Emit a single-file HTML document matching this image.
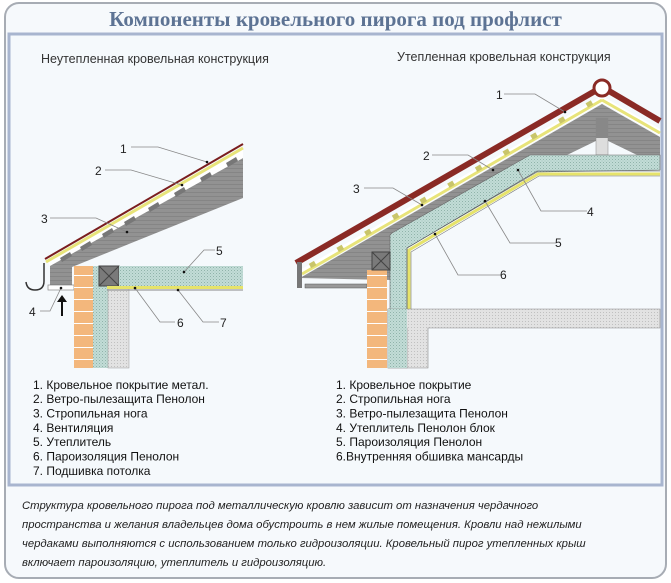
<!DOCTYPE html>
<html><head><meta charset="utf-8"><style>
html,body{margin:0;padding:0;background:#fff;}
svg{display:block;}
text{font-family:"Liberation Sans",sans-serif;}
</style></head><body>
<svg width="671" height="583" viewBox="0 0 671 583" xmlns="http://www.w3.org/2000/svg">
<defs>
<pattern id="grn" width="3" height="3" patternUnits="userSpaceOnUse"><rect width="3" height="3" fill="#c2dcd6"/><rect width="1" height="1" fill="#8fb3aa"/><rect x="1.5" y="1.5" width="1" height="1" fill="#a3c4bc"/></pattern>
<pattern id="gry" width="3" height="3" patternUnits="userSpaceOnUse"><rect width="3" height="3" fill="#e2e2e2"/><rect width="1" height="1" fill="#c0c0c0"/></pattern>
<pattern id="raft" width="4" height="4" patternUnits="userSpaceOnUse"><rect width="4" height="4" fill="#929292"/><rect width="4" height="1" fill="#858585"/></pattern>
<pattern id="brick" width="20" height="12" patternUnits="userSpaceOnUse"><rect width="20" height="12" fill="#f3b77c"/><rect y="11" width="20" height="1" fill="#fff"/></pattern>
</defs>
<rect x="5" y="3" width="661" height="575" rx="14" fill="#f6f9fc" stroke="#a7acb4" stroke-width="2"/>
<text x="335.5" y="26" text-anchor="middle" font-weight="bold" font-size="21" fill="#5d7394" style="font-family:'Liberation Serif',serif">Компоненты кровельного пирога под профлист</text>
<rect x="9" y="34" width="653" height="451" fill="#f5f9fc" stroke="#a8b5cf" stroke-width="3"/>
<text x="41" y="63" font-size="12.5" fill="#333">Неутепленная кровельная конструкция</text>
<text x="397" y="61" font-size="12.5" fill="#333">Утепленная кровельная конструкция</text>

<!-- LEFT DIAGRAM -->
<polygon points="50,263 243,158 243,198 72,267 72,285 50,285" fill="url(#raft)"/>
<polygon points="48,262 243,150 243,158 50,266" fill="#fff"/>
<g fill="#777"><polygon points="60,258 70,252 72,256 62,262"/><polygon points="80,247 90,241 92,245 82,251"/><polygon points="102,234 112,228 114,232 104,238"/><polygon points="124,222 134,216 136,220 126,226"/><polygon points="148,208 158,202 160,206 150,212"/><polygon points="174,193 184,187 186,191 176,197"/><polygon points="200,178 210,172 212,176 202,182"/><polygon points="226,163 236,157 238,161 228,167"/></g>
<line x1="46" y1="262" x2="243" y2="148" stroke="#e8e47a" stroke-width="3"/>
<line x1="45" y1="259" x2="243" y2="144" stroke="#7a1e1e" stroke-width="2"/>
<rect x="48" y="285" width="26" height="5" fill="#fff" stroke="#888" stroke-width="0.7"/>
<path d="M44,263 L44,281 Q44,290 35,290 Q27,290 26,282" fill="none" stroke="#333" stroke-width="1.5"/>
<rect x="74" y="266" width="19" height="102" fill="url(#brick)"/>
<rect x="93" y="266" width="15" height="102" fill="url(#grn)"/>
<rect x="108" y="287" width="21" height="81" fill="url(#gry)" stroke="#999" stroke-width="0.5"/>
<rect x="99" y="266" width="20" height="20" fill="#7a7a7a" stroke="#444"/><path d="M99,266 L119,286 M119,266 L99,286" stroke="#444"/>
<rect x="119" y="266" width="124" height="20" fill="url(#grn)"/>
<rect x="107" y="286" width="136" height="3" fill="#e6e36a"/>
<line x1="107" y1="290" x2="243" y2="290" stroke="#888"/>
<path d="M62,316 L62,299" stroke="#111" stroke-width="2"/><polygon points="57,302 62,295 67,302" fill="#111"/>
<g stroke="#888" stroke-width="0.8" fill="none">
<path d="M131,147 L158,147 L207,162"/><path d="M105,170 L131,170 L182,185"/><path d="M50,218 L96,218 L127,232"/><path d="M215,250 L204,250 L184,272"/><path d="M40,311 L50,311 L61,288"/><path d="M175,322 L160,322 L135,288"/><path d="M219,322 L203,322 L178,290"/>
</g>
<g fill="#111"><circle cx="207" cy="162" r="1.3"/><circle cx="182" cy="185" r="1.3"/><circle cx="127" cy="232" r="1.3"/><circle cx="184" cy="272" r="1.3"/><circle cx="61" cy="288" r="1.3"/><circle cx="135" cy="288" r="1.3"/><circle cx="178" cy="290" r="1.3"/></g>
<g font-size="12" fill="#222"><text x="120" y="153">1</text><text x="95" y="175">2</text><text x="41" y="223">3</text><text x="216" y="255">5</text><text x="29" y="316">4</text><text x="177" y="327">6</text><text x="220" y="327">7</text></g>

<!-- RIGHT DIAGRAM -->
<polygon points="300,278 602,104 660,137 660,155 637,155 602,138 567,155 530,155 392,233 390,280" fill="url(#raft)"/>
<rect x="596" y="118" width="12" height="37" fill="#ddd" stroke="#888" stroke-width="0.5"/><rect x="596" y="118" width="12" height="20" fill="#888"/>
<polygon points="300,270 602,96 660,129 660,136 602,103 300,277" fill="#fff"/>
<line x1="302" y1="274" x2="602" y2="100" stroke="#e8e47a" stroke-width="3"/><line x1="602" y1="100" x2="660" y2="133" stroke="#e8e47a" stroke-width="3"/>
<g stroke="#c9c56a" stroke-width="5" stroke-dasharray="6 26"><line x1="310" y1="266" x2="598" y2="99"/></g>
<path d="M296,263 L595,91 M609,91 L660,121" stroke="#8a2a25" stroke-width="6" fill="none"/>
<circle cx="602" cy="88" r="8" fill="#fff" stroke="#8a2a25" stroke-width="3"/>
<rect x="297" y="262" width="5" height="26" fill="#777"/>
<rect x="305" y="284" width="62" height="4" fill="#999" stroke="#555" stroke-width="0.5"/>
<polygon points="392,233 530,155 660,155 660,170 537,172 407,248 407,368 388,368 388,309 390,309 390,235" fill="url(#grn)" stroke="#666" stroke-width="0.6"/>
<path d="M409,310 L409,250 L538,174 L660,174" fill="none" stroke="#e6e36a" stroke-width="3"/>
<path d="M407,310 L407,248 L537,171 L660,171" fill="none" stroke="#555" stroke-width="0.6"/>
<path d="M411,310 L411,252 L539,176 L660,176" fill="none" stroke="#777" stroke-width="0.6"/>
<polygon points="388,309 660,309 660,328 428,328 428,368 407,368 407,328 388,328" fill="url(#gry)" stroke="#888" stroke-width="0.6"/>
<rect x="388" y="309" width="19" height="59" fill="url(#grn)"/>
<rect x="367" y="270" width="20" height="98" fill="url(#brick)"/>
<rect x="372" y="252" width="18" height="18" fill="#7a7a7a" stroke="#444"/><path d="M372,252 L390,270 M390,252 L372,270" stroke="#444"/>
<g stroke="#888" stroke-width="0.8" fill="none">
<path d="M504,94 L535,94 L565,112"/><path d="M432,155 L468,155 L493,170"/><path d="M364,188 L393,188 L422,205"/><path d="M587,211 L541,211 L518,170"/><path d="M556,243 L510,243 L485,201"/><path d="M501,275 L458,275 L435,234"/>
</g>
<g fill="#111"><circle cx="565" cy="112" r="1.3"/><circle cx="493" cy="170" r="1.3"/><circle cx="422" cy="205" r="1.3"/><circle cx="518" cy="170" r="1.3"/><circle cx="485" cy="201" r="1.3"/><circle cx="435" cy="234" r="1.3"/></g>
<g font-size="12" fill="#222"><text x="496" y="99">1</text><text x="423" y="160">2</text><text x="353" y="193">3</text><text x="587" y="216">4</text><text x="555" y="247">5</text><text x="500" y="279">6</text></g>

<!-- LISTS -->
<g font-size="12" fill="#111">
<text x="33" y="389">1. Кровельное покрытие метал.</text>
<text x="33" y="403">2. Ветро-пылезащита Пенолон</text>
<text x="33" y="417.5">3. Стропильная нога</text>
<text x="33" y="432">4. Вентиляция</text>
<text x="33" y="446">5. Утеплитель</text>
<text x="33" y="460.5">6. Пароизоляция Пенолон</text>
<text x="33" y="475">7. Подшивка потолка</text>
<text x="336" y="389">1. Кровельное покрытие</text>
<text x="336" y="403">2. Стропильная нога</text>
<text x="336" y="417.5">3. Ветро-пылезащита Пенолон</text>
<text x="336" y="432">4. Утеплитель Пенолон блок</text>
<text x="336" y="446">5. Пароизоляция Пенолон</text>
<text x="336" y="460.5">6.Внутренняя обшивка мансарды</text>
</g>
<g font-size="11.3" font-style="italic" fill="#222">
<text x="22" y="509">Структура кровельного пирога под металлическую кровлю зависит от назначения чердачного</text>
<text x="22" y="528">пространства и желания владельцев дома обустроить в нем жилые помещения. Кровли над нежилыми</text>
<text x="22" y="547">чердаками выполняются с использованием только гидроизоляции. Кровельный пирог утепленных крыш</text>
<text x="22" y="566">включает пароизоляцию, утеплитель и гидроизоляцию.</text>
</g>
</svg>
</body></html>
